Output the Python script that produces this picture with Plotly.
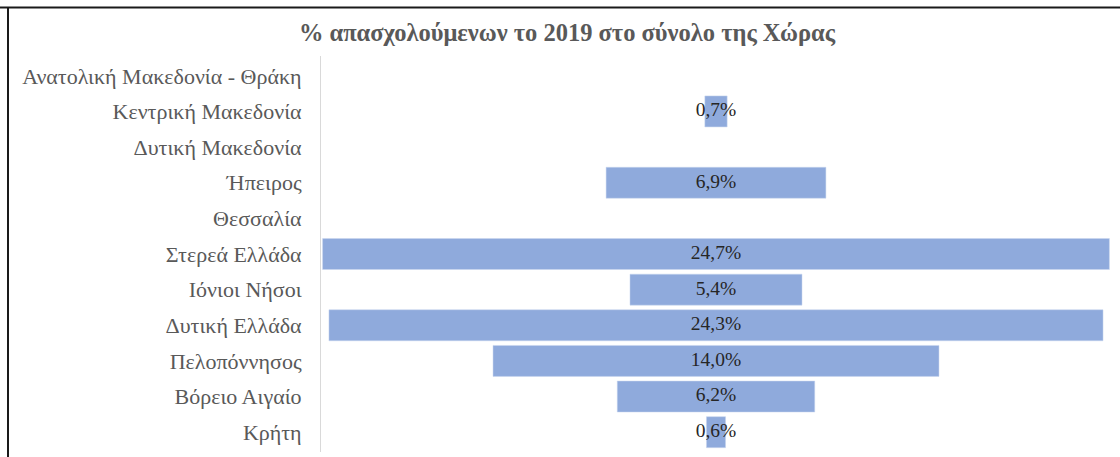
import plotly.graph_objects as go

regions = [
    "Ανατολική Μακεδονία - Θράκη",
    "Κεντρική Μακεδονία",
    "Δυτική Μακεδονία",
    "Ήπειρος",
    "Θεσσαλία",
    "Στερεά Ελλάδα",
    "Ιόνιοι Νήσοι",
    "Δυτική Ελλάδα",
    "Πελοπόννησος",
    "Βόρειο Αιγαίο",
    "Κρήτη",
]
shares = [None, 0.7, None, 6.9, None, 24.7, 5.4, 24.3, 14.0, 6.2, 0.6]
title_text = "% απασχολούμενων το 2019 στο σύνολο της Χώρας"

bases = [(-v / 2 if v is not None else None) for v in shares]
labels = [(f"{v:.1f}%".replace(".", ",") if v is not None else "") for v in shares]
label_x = [(0 if v is not None else None) for v in shares]

SERIF = "Liberation Serif, Times New Roman, serif"

fig = go.Figure()
fig.add_trace(go.Bar(
    y=regions, x=shares, base=bases, orientation="h",
    marker=dict(color="#8FAADC", line=dict(width=0.5, color="#C9D6EE")),
    hoverinfo="skip", showlegend=False,
))
fig.add_trace(go.Scatter(
    y=regions, x=label_x, mode="text", text=labels,
    textposition="middle center",
    textfont=dict(family=SERIF, size=19.5, color="#262626"),
    hoverinfo="skip", showlegend=False, cliponaxis=False,
))

L, R, T, B = 321, 9, 56, 5
W, H = 1120, 457
pw = W - L - R
ph = H - T - B

def px_x(p):
    return (p - L) / pw

def px_y(p):
    return (H - B - p) / ph

fig.update_layout(
    width=W, height=H,
    margin=dict(l=L, r=R, t=T, b=B, autoexpand=False),
    paper_bgcolor="white", plot_bgcolor="white",
    bargap=0.13,
    title=dict(
        text=f"<b>{title_text}</b>",
        x=px_x(567), xref="paper", xanchor="center",
        y=1 - 32 / H, yanchor="middle",
        font=dict(family=SERIF, size=24.5, color="#595959"),
    ),
    xaxis=dict(visible=False, range=[-12.4, 12.4], fixedrange=True, automargin=False),
    yaxis=dict(
        categoryorder="array", categoryarray=regions, autorange="reversed",
        showline=True, linecolor="#D9D9D9", linewidth=1,
        showgrid=False, zeroline=False, ticks="",
        automargin=False,
        ticklabelstandoff=14,
        tickfont=dict(family=SERIF, size=22, color="#595959"),
    ),
    shapes=[
        dict(type="line", xref="paper", yref="paper",
             x0=px_x(0), x1=px_x(1120), y0=px_y(7.5), y1=px_y(7.5),
             line=dict(color="#1a1a1a", width=2)),
        dict(type="line", xref="paper", yref="paper",
             x0=px_x(8), x1=px_x(8), y0=px_y(7), y1=px_y(457),
             line=dict(color="#1a1a1a", width=2)),
    ],
)

fig.write_html("out.html", config={"displayModeBar": False},
               post_script="document.body.style.margin='0';")
